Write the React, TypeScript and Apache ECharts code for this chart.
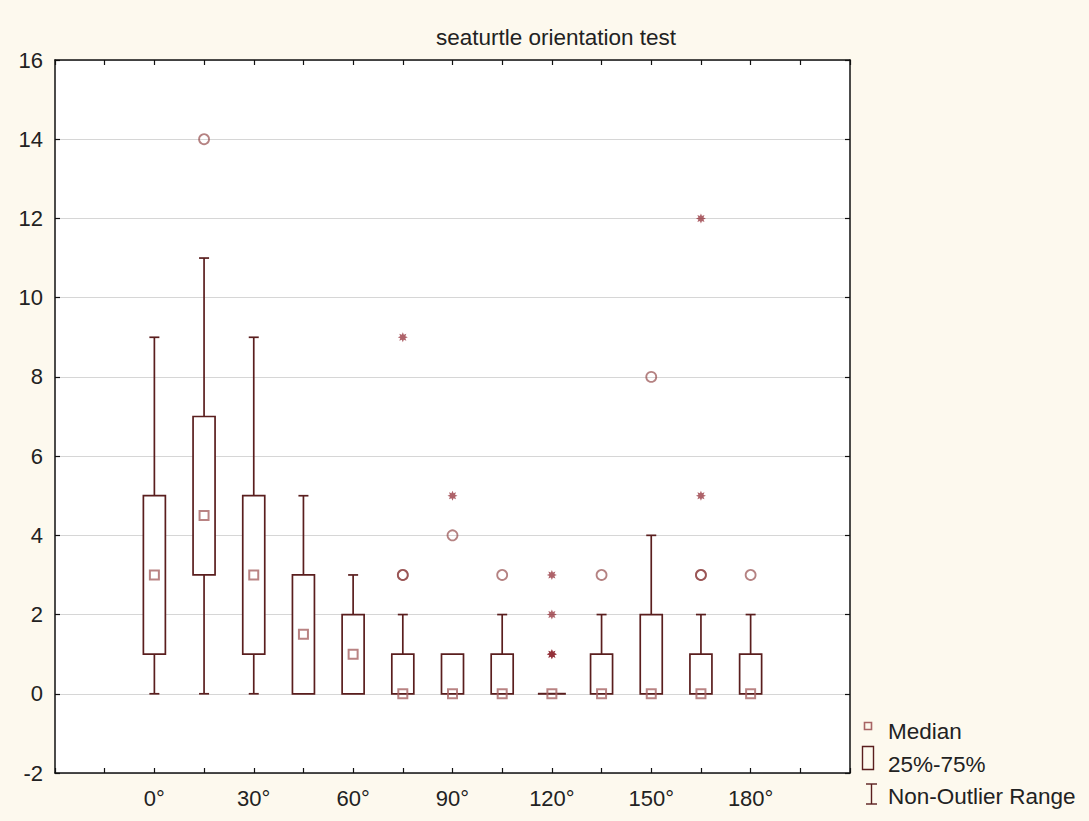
import React, { useEffect, useRef } from "react";
import * as echarts from "echarts";

const categories = ["0°", "15°", "30°", "45°", "60°", "75°", "90°", "105°", "120°", "135°", "150°", "165°", "180°"];
const whiskerLow = [0, 0, 0, 0, 0, 0, 0, 0, 0, 0, 0, 0, 0];
const q1 = [1, 3, 1, 0, 0, 0, 0, 0, 0, 0, 0, 0, 0];
const medians = [3, 4.5, 3, 1.5, 1, 0, 0, 0, 0, 0, 0, 0, 0];
const q3 = [5, 7, 5, 3, 2, 1, 1, 1, 0, 1, 2, 1, 1];
const whiskerHigh = [9, 11, 9, 5, 3, 2, 1, 2, 0, 2, 4, 2, 2];
// outliers (circles) and extremes (stars): [category, value]
const outliers: [string, number][] = [
  ["15°", 14], ["75°", 3], ["75°", 3], ["90°", 4], ["105°", 3],
  ["135°", 3], ["150°", 8], ["165°", 3], ["165°", 3], ["180°", 3],
];
const extremes: [string, number][] = [
  ["75°", 9], ["90°", 5], ["120°", 1], ["120°", 1], ["120°", 2], ["120°", 3], ["165°", 5], ["165°", 12],
];
const title = "seaturtle orientation test";
const legendLabels = ["Median", "25%-75%", "Non-Outlier Range"];

const BOX_COLOR = "#5a1e1e";
const MEDIAN_COLOR = "#a86464";
const OUTLIER_COLOR = "rgba(140,60,60,0.8)";
const EXTREME_COLOR = "rgba(135,25,35,0.85)";

function starPath(): string {
  const pts: string[] = [];
  for (let k = 0; k < 16; k++) {
    const r = k % 2 === 0 ? 10 : 5.5;
    const a = (Math.PI * 2 * k) / 16 - Math.PI / 2;
    pts.push(`${(10 + r * Math.cos(a)).toFixed(2)} ${(10 + r * Math.sin(a)).toFixed(2)}`);
  }
  return "path://M" + pts.join(" L") + " Z";
}

export default function App() {
  const ref = useRef<HTMLDivElement>(null);
  useEffect(() => {
    if (!ref.current) return;
    const chart = echarts.init(ref.current, null, { renderer: "svg" });
    const idx = (c: string) => categories.indexOf(c);
    const boxData = categories.map((_, i) => [i, whiskerLow[i], q1[i], medians[i], q3[i], whiskerHigh[i]]);
    const font = "'Liberation Sans', Arial, sans-serif";
    const axisCommon = {
      axisLine: { show: true, onZero: false, lineStyle: { color: "#111", width: 1.5 } },
      axisTick: { show: true, inside: true, length: 5, lineStyle: { color: "#111", width: 1.2 } },
    };
    chart.setOption({
      animation: false,
      backgroundColor: "#fdf9ee",
      textStyle: { fontFamily: font },
      title: {
        text: title,
        left: 551,
        top: 21,
        textAlign: "center",
        textStyle: { fontSize: 22.5, fontWeight: "normal", color: "#222", fontFamily: font },
      },
      grid: { left: 55, right: 239, top: 60, bottom: 48, show: true, backgroundColor: "#ffffff", borderWidth: 0 },
      xAxis: [
        {
          type: "value", min: -2, max: 14, interval: 1, position: "bottom",
          ...axisCommon,
          splitLine: { show: false },
          axisLabel: {
            fontSize: 22, color: "#222", margin: 14, fontFamily: font,
            formatter: (v: number) => (v >= 0 && v <= 12 && v % 2 === 0 ? categories[v] : ""),
          },
        },
        {
          type: "value", min: -2, max: 14, interval: 1, position: "top",
          ...axisCommon, splitLine: { show: false }, axisLabel: { show: false },
        },
      ],
      yAxis: [
        {
          type: "value", min: -2, max: 16, interval: 2, position: "left",
          ...axisCommon,
          splitLine: { show: true, lineStyle: { color: "#d6d6d6", width: 1 } },
          axisLabel: { fontSize: 22, color: "#222", margin: 12, fontFamily: font },
        },
        {
          type: "value", min: -2, max: 16, interval: 2, position: "right",
          ...axisCommon, splitLine: { show: false }, axisLabel: { show: false },
        },
      ],
      series: [
        {
          type: "custom",
          xAxisIndex: 0, yAxisIndex: 0,
          data: boxData,
          renderItem: (params: any, api: any) => {
            const x = api.value(0);
            const lo = api.value(1), a = api.value(2), b = api.value(4), hi = api.value(5);
            const pLo = api.coord([x, lo]);
            const pA = api.coord([x, a]);
            const pB = api.coord([x, b]);
            const pHi = api.coord([x, hi]);
            const cx = pA[0];
            const bw = 22, cw = 10;
            const st = { stroke: BOX_COLOR, lineWidth: 1.7, fill: "none" };
            const children: any[] = [];
            if (hi > b) {
              children.push({ type: "line", shape: { x1: cx, y1: pB[1], x2: cx, y2: pHi[1] }, style: st });
              children.push({ type: "line", shape: { x1: cx - cw / 2, y1: pHi[1], x2: cx + cw / 2, y2: pHi[1] }, style: st });
            }
            if (lo < a) {
              children.push({ type: "line", shape: { x1: cx, y1: pA[1], x2: cx, y2: pLo[1] }, style: st });
              children.push({ type: "line", shape: { x1: cx - cw / 2, y1: pLo[1], x2: cx + cw / 2, y2: pLo[1] }, style: st });
            }
            if (b > a) {
              children.push({ type: "rect", shape: { x: cx - bw / 2, y: pB[1], width: bw, height: pA[1] - pB[1] }, style: { ...st, fill: "#ffffff" } });
            } else {
              children.push({ type: "line", shape: { x1: cx - 14, y1: pA[1], x2: cx + 14, y2: pA[1] }, style: { ...st, lineWidth: 2 } });
            }
            return { type: "group", children };
          },
          z: 2,
        },
        {
          type: "scatter",
          data: medians.map((m, i) => [i, m]),
          symbol: "rect",
          symbolSize: 9,
          itemStyle: { color: "rgba(255,255,255,0)", borderColor: MEDIAN_COLOR, borderWidth: 2 },
          z: 4,
        },
        {
          type: "scatter",
          data: outliers.map(([c, v]) => [idx(c), v]),
          symbol: "circle",
          symbolSize: 10,
          itemStyle: { color: "rgba(255,255,255,0)", borderColor: OUTLIER_COLOR, borderWidth: 1.8 },
          z: 4,
        },
        {
          type: "scatter",
          data: extremes.map(([c, v]) => [idx(c), v]),
          symbol: starPath(),
          symbolSize: 10,
          itemStyle: { color: EXTREME_COLOR },
          z: 4,
        },
      ],
      graphic: [
        { type: "rect", shape: { x: 864.5, y: 722.5, width: 7, height: 7 }, style: { fill: "none", stroke: MEDIAN_COLOR, lineWidth: 1.6 } },
        { type: "text", x: 888, y: 731, style: { text: legendLabels[0], fontSize: 22.5, fill: "#222", fontFamily: font, textVerticalAlign: "middle" } },
        { type: "rect", shape: { x: 862.5, y: 746.5, width: 11, height: 23 }, style: { fill: "none", stroke: BOX_COLOR, lineWidth: 1.4 } },
        { type: "text", x: 888, y: 764, style: { text: legendLabels[1], fontSize: 22.5, fill: "#222", fontFamily: font, textVerticalAlign: "middle" } },
        { type: "line", shape: { x1: 866, y1: 784, x2: 877, y2: 784 }, style: { stroke: BOX_COLOR, lineWidth: 1.4 } },
        { type: "line", shape: { x1: 871.5, y1: 784, x2: 871.5, y2: 804 }, style: { stroke: BOX_COLOR, lineWidth: 1.4 } },
        { type: "line", shape: { x1: 866, y1: 804, x2: 877, y2: 804 }, style: { stroke: BOX_COLOR, lineWidth: 1.4 } },
        { type: "text", x: 888, y: 796, style: { text: legendLabels[2], fontSize: 22.5, fill: "#222", fontFamily: font, textVerticalAlign: "middle" } },
      ],
    });
    return () => chart.dispose();
  }, []);
  return <div ref={ref} style={{ position: "fixed", left: 0, top: 0, width: 1089, height: 821 }} />;
}
